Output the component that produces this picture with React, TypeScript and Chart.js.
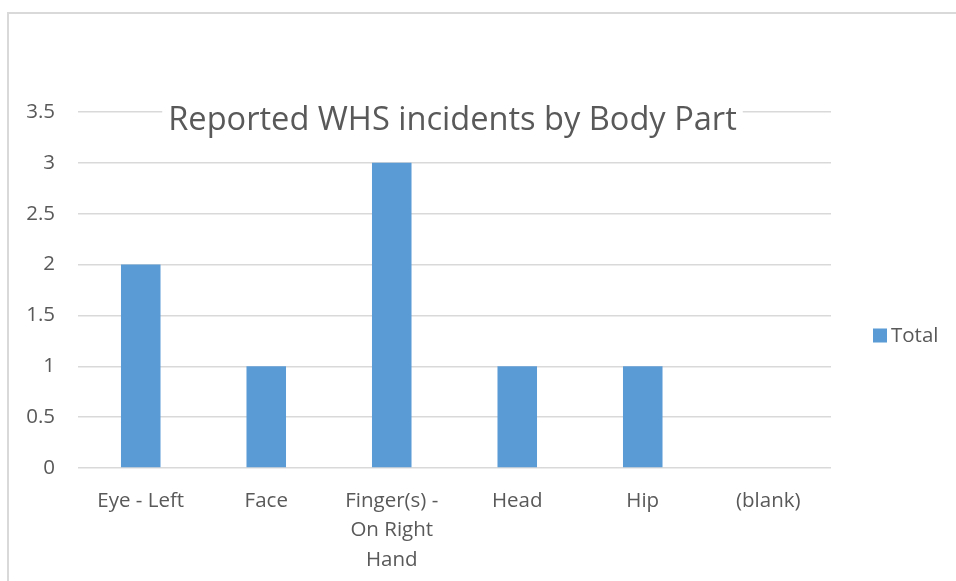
import React, { useEffect, useRef } from "react";
import { Chart, registerables } from "chart.js";

Chart.register(...registerables);

const categories: (string | string[])[] = [
  "Eye - Left",
  "Face",
  ["Finger(s) -", "On Right", "Hand"],
  "Head",
  "Hip",
  "(blank)",
];
const totals: (number | null)[] = [2, 1, 3, 1, 1, null];
const seriesName = "Total";
const chartTitle = "Reported WHS incidents by Body Part";
const yMin = 0;
const yMax = 3.5;
const yStep = 0.5;

const FONT = "'Open Sans', 'Noto Sans', sans-serif";
const TEXT = "#595959";
const GRID = "#d9d9d9";
const BAR = "#5b9bd5";

const framePlugin = {
  id: "frame",
  beforeDraw(chart: any) {
    const ctx = chart.ctx;
    ctx.save();
    ctx.fillStyle = "#ffffff";
    ctx.fillRect(0, 0, chart.width, chart.height);
    ctx.strokeStyle = GRID;
    ctx.lineWidth = 2;
    ctx.beginPath();
    ctx.moveTo(8, chart.height);
    ctx.lineTo(8, 13);
    ctx.lineTo(chart.width, 13);
    ctx.stroke();
    ctx.restore();
  },
};

const titleLegendPlugin = {
  id: "titleLegend",
  afterDraw(chart: any) {
    const ctx = chart.ctx;
    const area = chart.chartArea;
    ctx.save();
    // title box
    ctx.font = `32.6px ${FONT}`;
    const w = ctx.measureText(chartTitle).width;
    const cx = (area.left + area.right) / 2 - 2;
    const cy = 121;
    ctx.fillStyle = "#ffffff";
    ctx.fillRect(cx - w / 2 - 6, cy - 22, w + 12, 44);
    ctx.fillStyle = TEXT;
    ctx.textAlign = "center";
    ctx.textBaseline = "middle";
    ctx.fillText(chartTitle, cx, cy);
    // legend
    const ds = chart.data.datasets[0];
    const ly = 335.5;
    ctx.fillStyle = ds.backgroundColor;
    ctx.fillRect(873, ly - 7, 14, 14);
    ctx.font = `20.5px ${FONT}`;
    ctx.fillStyle = TEXT;
    ctx.textAlign = "left";
    ctx.textBaseline = "middle";
    ctx.fillText(ds.label, 891, ly + 1);
    ctx.restore();
  },
};

export default function App() {
  const ref = useRef<HTMLCanvasElement | null>(null);

  useEffect(() => {
    if (!ref.current) return;
    const chart = new Chart(ref.current, {
      type: "bar",
      data: {
        labels: categories,
        datasets: [
          {
            label: seriesName,
            data: totals,
            backgroundColor: BAR,
            borderWidth: 0,
            barPercentage: 0.315,
            categoryPercentage: 1,
          },
        ],
      },
      options: {
        animation: false,
        responsive: false,
        maintainAspectRatio: false,
        layout: { padding: { top: 112, left: 0, right: 125, bottom: 0 } },
        plugins: {
          legend: { display: false },
          title: { display: false },
          tooltip: { enabled: false },
        },
        scales: {
          x: {
            grid: { display: false },
            border: { display: false },
            ticks: {
              color: TEXT,
              font: { family: FONT, size: 20.5, lineHeight: 1.44 },
              maxRotation: 0,
              autoSkip: false,
              padding: 10,
            },
            afterFit(scale: any) {
              scale.height = 113;
            },
          },
          y: {
            min: yMin,
            max: yMax,
            border: { display: false },
            grid: { color: GRID, lineWidth: 1.5, drawTicks: false },
            ticks: {
              stepSize: yStep,
              color: TEXT,
              font: { family: FONT, size: 20.5 },
              padding: 23,
              callback: (v: any) => String(Number(v)),
            },
            afterFit(scale: any) {
              scale.width = 78;
            },
          },
        },
      },
      plugins: [framePlugin, titleLegendPlugin],
    });
    return () => chart.destroy();
  }, []);

  return (
    <div style={{ position: "absolute", left: 0, top: 0, width: 956, height: 581 }}>
      <canvas ref={ref} width={956} height={581} style={{ width: 956, height: 581 }} />
    </div>
  );
}
